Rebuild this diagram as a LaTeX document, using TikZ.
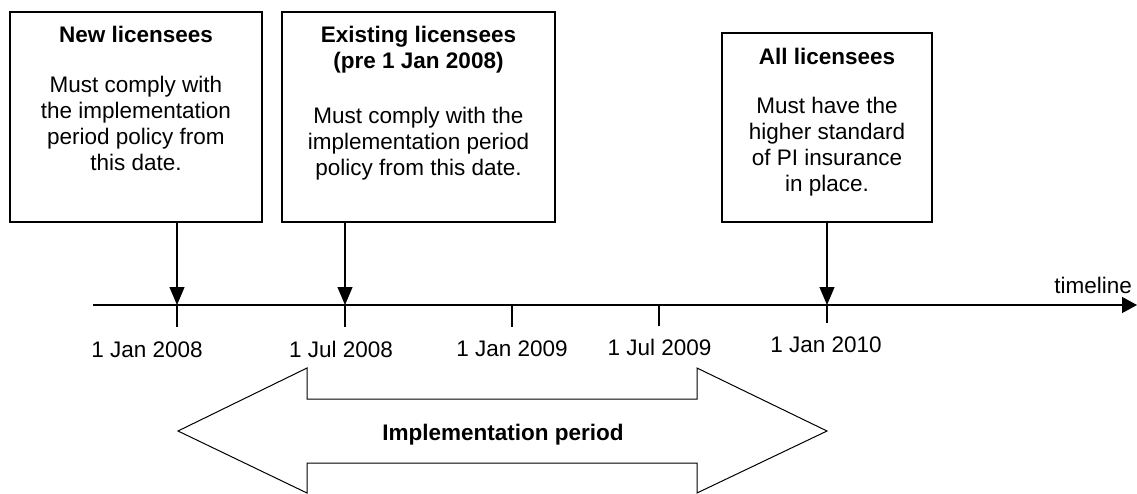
\documentclass[tikz,border=0pt]{standalone}
\usepackage{fontspec}
\setmainfont{Liberation Sans}
\usetikzlibrary{arrows.meta}
\begin{document}
\begin{tikzpicture}[x=1pt,y=-1pt,
  every node/.style={font=\fontsize{22.5}{26}\selectfont, inner sep=0pt},
  boxstyle/.style={draw, line width=1.2pt, rectangle},
  txt/.style={align=center, anchor=base},
  datelbl/.style={anchor=base},
  dn/.style={line width=1.1pt, -{Triangle[width=15pt,length=18pt]}},
  tick/.style={line width=1.1pt},
  axis/.style={line width=1.3pt, -{Triangle[width=16pt,length=15pt]}},
  bigarrow/.style={draw, line width=1pt, fill=white}]
\useasboundingbox (0,0) rectangle (1137,493);
% boxes
\node[boxstyle, minimum width=252pt, minimum height=210pt] (b1) at (136,117) {};
\node[boxstyle, minimum width=273pt, minimum height=210pt] (b2) at (418.5,117) {};
\node[boxstyle, minimum width=210pt, minimum height=189pt] (b3) at (827,127.5) {};
% box texts (base anchor = baseline of the last line)
\node[txt] (t1) at (136,170) {\textbf{New licensees}\\[24pt]Must comply with\\the implementation\\period policy from\\this date.};
\node[txt] (t2) at (418.5,175) {\textbf{Existing licensees}\\\textbf{(pre 1 Jan 2008)}\\[29pt]Must comply with the\\implementation period\\policy from this date.};
\node[txt] (t3) at (827,191) {\textbf{All licensees}\\[23pt]Must have the\\higher standard\\of PI insurance\\in place.};
% timeline
\coordinate (start) at (93,305);
\coordinate (end) at (1137,305);
\coordinate (d1) at (177,305);
\coordinate (d2) at (345,305);
\coordinate (d3) at (512,305);
\coordinate (d4) at (659,305);
\coordinate (d5) at (827,305);
\draw[axis] (start) -- (end);
\node[datelbl, anchor=base east] (tl) at (1132,293) {timeline};
% ticks
\draw[tick] (d1) -- ++(0,22);
\draw[tick] (d2) -- ++(0,22);
\draw[tick] (d3) -- ++(0,22);
\draw[tick] (d4) -- ++(0,21);
\draw[tick] (d5) -- ++(0,18);
% arrows from boxes
\draw[dn] (b1.south -| d1) -- (d1);
\draw[dn] (b2.south -| d2) -- (d2);
\draw[dn] (b3.south -| d5) -- (d5);
% date labels
\node[datelbl] (l1) at (147,357) {1 Jan 2008};
\node[datelbl] (l2) at (341,357) {1 Jul 2008};
\node[datelbl] (l3) at (512,356) {1 Jan 2009};
\node[datelbl] (l4) at (659.5,355) {1 Jul 2009};
\node[datelbl] (l5) at (826,352) {1 Jan 2010};
% implementation period double arrow
\draw[bigarrow] (178,431) -- (307,368) -- (307,399) -- (697,399) -- (697,368)
  -- (827,431) -- (697,493) -- (697,463) -- (307,463) -- (307,493) -- cycle;
\node[datelbl] (ip) at (503,440) {\textbf{Implementation period}};
\end{tikzpicture}
\end{document}
